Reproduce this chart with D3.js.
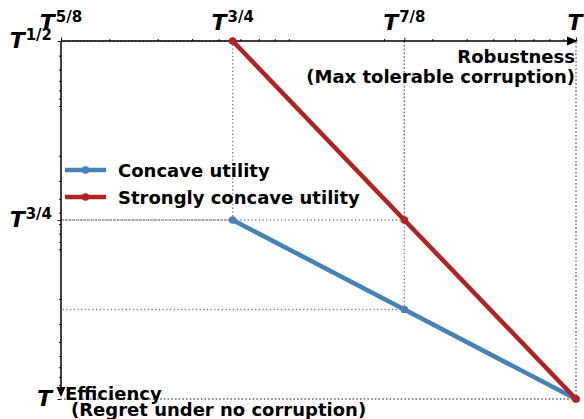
<!DOCTYPE html>
<html>
<head>
<meta charset="utf-8">
<script src="https://cdn.jsdelivr.net/npm/d3@7"></script>
<style>
  html, body { margin: 0; padding: 0; background: #fff; }
  svg { display: block; font-family: "DejaVu Sans", sans-serif; }
</style>
</head>
<body>
<svg id="chart" width="584" height="419"></svg>
<script>
// ---- data ----
const T = 1e5;
const xTickExps = [5/8, 3/4, 7/8, 1];
const xTickSups = ["5/8", "3/4", "7/8", ""];
const yTickExps = [1/2, 3/4, 1];
const yTickSups = ["1/2", "3/4", ""];
const seriesNames = ["Concave utility", "Strongly concave utility"];
const seriesColors = ["#4682b4", "#b22222"];
const robustnessExps = [3/4, 7/8, 1];
const concaveEffExps = [3/4, 7/8, 1];
const strongEffExps = [1/2, 3/4, 1];
const xAxisLabel = ["Robustness", "(Max tolerable corruption)"];
const yAxisLabel = ["Efficiency", "(Regret under no corruption)"];

(function () {
const series = [
  { name: seriesNames[0], color: seriesColors[0],
    pts: robustnessExps.map((e, i) => ({ x: Math.pow(T, e), y: Math.pow(T, concaveEffExps[i]) })) },
  { name: seriesNames[1], color: seriesColors[1],
    pts: robustnessExps.map((e, i) => ({ x: Math.pow(T, e), y: Math.pow(T, strongEffExps[i]) })) }
];

// ---- layout ----
const svg = d3.select("#chart");
const L = 61, R = 576, TOP = 41, BOT = 399;

const x = d3.scaleLog().domain([Math.pow(T, 5/8), T]).range([L, R]);
const y = d3.scaleLog().domain([Math.pow(T, 1/2), T]).range([TOP, BOT]);

const isMinor = v => { const m = v / Math.pow(10, Math.floor(Math.log10(v) + 1e-9)); return Math.abs(m - 1) > 1e-6; };
const xMinor = x.ticks().filter(isMinor).filter(v => x(v) > L + 0.5 && x(v) < R - 0.5);
const yMinor = y.ticks().filter(isMinor).filter(v => y(v) > TOP + 0.5 && y(v) < BOT - 0.5);

// ---- guides (dotted) ----
const guides = svg.append("g");
series.forEach(s => s.pts.forEach(p => {
  guides.append("line").attr("x1", x(p.x)).attr("x2", x(p.x)).attr("y1", y(p.y)).attr("y2", TOP)
    .attr("stroke", "#808080").attr("stroke-width", 1.3).attr("stroke-dasharray", "1.3,2.4");
  guides.append("line").attr("x1", x(p.x)).attr("x2", L).attr("y1", y(p.y)).attr("y2", y(p.y))
    .attr("stroke", "#808080").attr("stroke-width", 1.3).attr("stroke-dasharray", "1.3,2.4");
}));

// ---- axes ----
const gx = svg.append("g").attr("transform", `translate(0,${TOP})`);
gx.call(d3.axisTop(x).tickValues(xMinor).tickSize(2).tickFormat(""));
gx.append("g").call(d3.axisTop(x).tickValues(xTickExps.map(e => Math.pow(T, e))).tickSize(3.5).tickFormat(""));
const gy = svg.append("g").attr("transform", `translate(${L},0)`);
gy.call(d3.axisLeft(y).tickValues(yMinor).tickSize(2).tickFormat(""));
gy.append("g").call(d3.axisLeft(y).tickValues(yTickExps.map(e => Math.pow(T, e))).tickSize(3.5).tickFormat(""));
svg.selectAll(".domain").remove();
svg.selectAll(".tick line").attr("stroke", "#000").attr("stroke-width", 0.9);

svg.append("line").attr("x1", L).attr("x2", R - 4).attr("y1", TOP).attr("y2", TOP)
  .attr("stroke", "#000").attr("stroke-width", 1.5);
svg.append("line").attr("x1", L).attr("x2", L).attr("y1", TOP).attr("y2", BOT - 6)
  .attr("stroke", "#000").attr("stroke-width", 1.5);
// arrows
svg.append("path").attr("d", `M${R + 2},${TOP} L${R - 9},${TOP - 4.5} L${R - 9},${TOP + 4.5} Z`).attr("fill", "#000");
svg.append("path").attr("d", `M${L},${BOT - 2} L${L - 4.5},${BOT - 12} L${L + 4.5},${BOT - 12} Z`).attr("fill", "#000");

// tick labels
function mathLabel(g, sup, anchor) {
  const t = g.append("text").attr("text-anchor", anchor).attr("font-weight", "bold");
  t.append("tspan").attr("font-style", "italic").attr("font-size", 22).text("T");
  if (sup) t.append("tspan").attr("font-size", 15).attr("dy", -7.5).attr("dx", 1).text(sup);
  return t;
}
xTickExps.forEach((e, i) => {
  const g = svg.append("g").attr("transform", `translate(${x(Math.pow(T, e)) + (xTickSups[i] ? 0 : -1)},${TOP - 11.5})`);
  mathLabel(g, xTickSups[i], "middle");
});
yTickExps.forEach((e, i) => {
  const g = svg.append("g").attr("transform", `translate(${L - 9},${y(Math.pow(T, e)) + 6.5})`);
  mathLabel(g, yTickSups[i], "end");
});

// axis titles
svg.append("text").attr("x", 575).attr("y", 63).attr("text-anchor", "end")
  .attr("font-weight", "bold").attr("font-size", 18).text(xAxisLabel[0]);
svg.append("text").attr("x", 575).attr("y", 83).attr("text-anchor", "end")
  .attr("font-weight", "bold").attr("font-size", 18).text(xAxisLabel[1]);
svg.append("text").attr("x", 65).attr("y", 399.5).attr("text-anchor", "start")
  .attr("font-weight", "bold").attr("font-size", 18).text(yAxisLabel[0]);
svg.append("text").attr("x", 71).attr("y", 415.5).attr("text-anchor", "start")
  .attr("font-weight", "bold").attr("font-size", 18).text(yAxisLabel[1]);

// ---- series ----
const line = d3.line().x(d => x(d.x)).y(d => y(d.y));
series.forEach(s => {
  svg.append("path").datum(s.pts).attr("d", line).attr("fill", "none")
    .attr("stroke", s.color).attr("stroke-width", 4.5).attr("stroke-linejoin", "round");
  svg.selectAll(null).data(s.pts).enter().append("circle")
    .attr("cx", d => x(d.x)).attr("cy", d => y(d.y)).attr("r", 3.8).attr("fill", s.color);
});

// ---- legend ----
const lg = svg.append("g");
series.forEach((s, i) => {
  const yy = 170 + i * 27;
  lg.append("line").attr("x1", 65).attr("x2", 106).attr("y1", yy).attr("y2", yy)
    .attr("stroke", s.color).attr("stroke-width", 4.5);
  lg.append("circle").attr("cx", 85.5).attr("cy", yy).attr("r", 3.8).attr("fill", s.color);
  lg.append("text").attr("x", 118).attr("y", yy + 6.5).attr("font-weight", "bold")
    .attr("font-size", 18).text(s.name);
});
})();
</script>
</body>
</html>
